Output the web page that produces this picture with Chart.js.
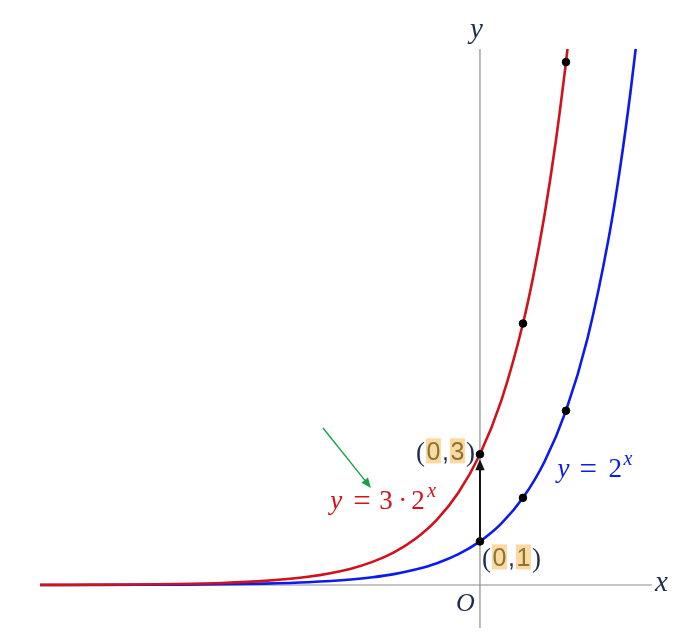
<!DOCTYPE html>
<html>
<head>
<meta charset="utf-8">
<script src="https://cdn.jsdelivr.net/npm/chart.js@4.4.0/dist/chart.umd.min.js"></script>
<style>
  html, body { margin: 0; padding: 0; background: #fff; }
  canvas { display: block; }
</style>
</head>
<body>
<canvas id="expChart" width="679" height="634" style="width:679px;height:634px"></canvas>
<script>
// y = 2^x
const blueX = [-10.23, -9, -8, -7, -6, -5, -4, -3, -2.5, -2, -1.5, -1, -0.5, 0, 0.5, 1, 1.5, 2, 2.5, 3, 3.25, 3.5, 3.65];
const blueY = [0.00083, 0.00195, 0.0039, 0.0078, 0.0156, 0.0313, 0.0625, 0.125, 0.177, 0.25, 0.354, 0.5, 0.707, 1, 1.414, 2, 2.828, 4, 5.657, 8, 9.514, 11.314, 12.55];
// y = 3 * 2^x
const redX = [-10.23, -9, -8, -7, -6, -5, -4, -3, -2.5, -2, -1.5, -1, -0.5, 0, 0.5, 1, 1.25, 1.5, 1.75, 2, 2.1];
const redY = [0.0025, 0.0059, 0.0117, 0.0234, 0.0469, 0.0938, 0.1875, 0.375, 0.53, 0.75, 1.061, 1.5, 2.121, 3, 4.243, 6, 7.135, 8.485, 10.09, 12, 12.86];
// marked points
const markX = [0, 1, 2];
const blueMarkY = [1, 2, 4];
const redMarkY = [3, 6, 12];

function pts(xs, ys) { return xs.map((x, i) => ({ x: x, y: ys[i] })); }

const navy = '#1d2f4c';
const blue = '#0a1af0';
const red = '#d0121c';

// draw pieces at fixed offsets: [text, font, dx, dy]
function pieces(ctx, list, x, y, color) {
    ctx.fillStyle = color;
    list.forEach(p => {
        ctx.font = p[1];
        ctx.fillText(p[0], x + p[2], y + (p[3] || 0));
    });
}

function pointLabel(ctx, a, b, x, y) {
    const serif = '27px "Liberation Serif"';
    const sans = '25px "Liberation Sans"';
    ctx.fillStyle = '#fcd9a0';
    ctx.fillRect(x + 10, y - 22, 15, 25);
    ctx.fillRect(x + 34, y - 22, 15, 25);
    pieces(ctx, [['(', serif, 0], [')', serif, 50]], x, y + 1, navy);
    pieces(ctx, [[',', sans, 26]], x, y, navy);
    pieces(ctx, [[a, sans, 10.5], [b, sans, 34.5]], x, y, '#8a7433');
}

function arrow(ctx, x1, y1, x2, y2, color, head, width) {
    const ang = Math.atan2(y2 - y1, x2 - x1);
    ctx.strokeStyle = color;
    ctx.fillStyle = color;
    ctx.lineWidth = width;
    ctx.beginPath();
    ctx.moveTo(x1, y1);
    ctx.lineTo(x2 - Math.cos(ang) * head * 0.8, y2 - Math.sin(ang) * head * 0.8);
    ctx.stroke();
    ctx.beginPath();
    ctx.moveTo(x2, y2);
    ctx.lineTo(x2 - head * Math.cos(ang - 0.4), y2 - head * Math.sin(ang - 0.4));
    ctx.lineTo(x2 - head * Math.cos(ang + 0.4), y2 - head * Math.sin(ang + 0.4));
    ctx.closePath();
    ctx.fill();
}

const axesPlugin = {
    id: 'axesPlugin',
    beforeDatasetsDraw(chart) {
        const ctx = chart.ctx, a = chart.chartArea;
        const x0 = chart.scales.x.getPixelForValue(0);
        const y0 = chart.scales.y.getPixelForValue(0);
        ctx.save();
        ctx.strokeStyle = '#8c8c8c';
        ctx.lineWidth = 1.2;
        ctx.beginPath();
        ctx.moveTo(a.left, y0); ctx.lineTo(a.right, y0);
        ctx.moveTo(x0, a.top); ctx.lineTo(x0, a.bottom);
        ctx.stroke();
        ctx.restore();
    },
    afterDraw(chart) {
        const ctx = chart.ctx, a = chart.chartArea;
        const sx = chart.scales.x, sy = chart.scales.y;
        const x0 = sx.getPixelForValue(0), y0 = sy.getPixelForValue(0);
        ctx.save();
        ctx.textBaseline = 'alphabetic';
        // axis names
        ctx.fillStyle = navy;
        ctx.font = 'italic 29px "Liberation Serif"';
        ctx.fillText('y', x0 - 10, a.top - 11);
        ctx.fillText('x', a.right + 3, y0 + 6);
        ctx.font = 'italic 26px "Liberation Serif"';
        ctx.fillText('O', x0 - 24, y0 + 26);
        // arrow from (0,1) to (0,3)
        arrow(ctx, x0, sy.getPixelForValue(1), x0, sy.getPixelForValue(3) + 5, '#111', 12, 2);
        // green pointer
        arrow(ctx, 323, 428, 371, 488, '#17a34a', 11, 1.4);
        // curve labels
        const it = 'italic 27px "Liberation Serif"';
        const up = '27px "Liberation Serif"';
        const eq = '31px "Liberation Serif"';
        const sm = 'italic 20px "Liberation Serif"';
        pieces(ctx, [['y', it, 0], ['=', eq, 22, 2], ['2', up, 51], ['x', sm, 66, -12]],
            sx.getPixelForValue(1.8), sy.getPixelForValue(2.5) + 1, blue);
        pieces(ctx, [['y', it, 0], ['=', eq, 23, 2], ['3', up, 49], ['\u00b7', up, 68], ['2', up, 81], ['x', sm, 97, -12]],
            sx.getPixelForValue(-3.48), sy.getPixelForValue(1.74), red);
        // point labels
        pointLabel(ctx, '0', '3', x0 - 64, sy.getPixelForValue(3) + 6);
        pointLabel(ctx, '0', '1', x0 + 2, sy.getPixelForValue(1) + 25);
        ctx.restore();
    }
};

new Chart(document.getElementById('expChart').getContext('2d'), {
    type: 'scatter',
    data: {
        datasets: [
            {
                label: 'y = 3·2^x (points)',
                data: pts(markX, redMarkY),
                backgroundColor: '#000',
                borderColor: '#000',
                pointRadius: 3.8,
                showLine: false
            },
            {
                label: 'y = 2^x (points)',
                data: pts(markX, blueMarkY),
                backgroundColor: '#000',
                borderColor: '#000',
                pointRadius: 3.8,
                showLine: false
            },
            {
                label: 'y = 3·2^x',
                data: pts(redX, redY),
                borderColor: red,
                borderWidth: 2.6,
                pointRadius: 0,
                showLine: true,
                cubicInterpolationMode: 'monotone'
            },
            {
                label: 'y = 2^x',
                data: pts(blueX, blueY),
                borderColor: blue,
                borderWidth: 2.6,
                pointRadius: 0,
                showLine: true,
                cubicInterpolationMode: 'monotone'
            }
        ]
    },
    options: {
        responsive: false,
        animation: false,
        layout: { padding: { left: 40, right: 27, top: 49, bottom: 6 } },
        plugins: { legend: { display: false }, tooltip: { enabled: false } },
        scales: {
            x: { type: 'linear', min: -10.23, max: 4.0, display: false },
            y: { type: 'linear', min: -0.987, max: 12.3, display: false }
        }
    },
    plugins: [axesPlugin]
});
</script>
</body>
</html>
